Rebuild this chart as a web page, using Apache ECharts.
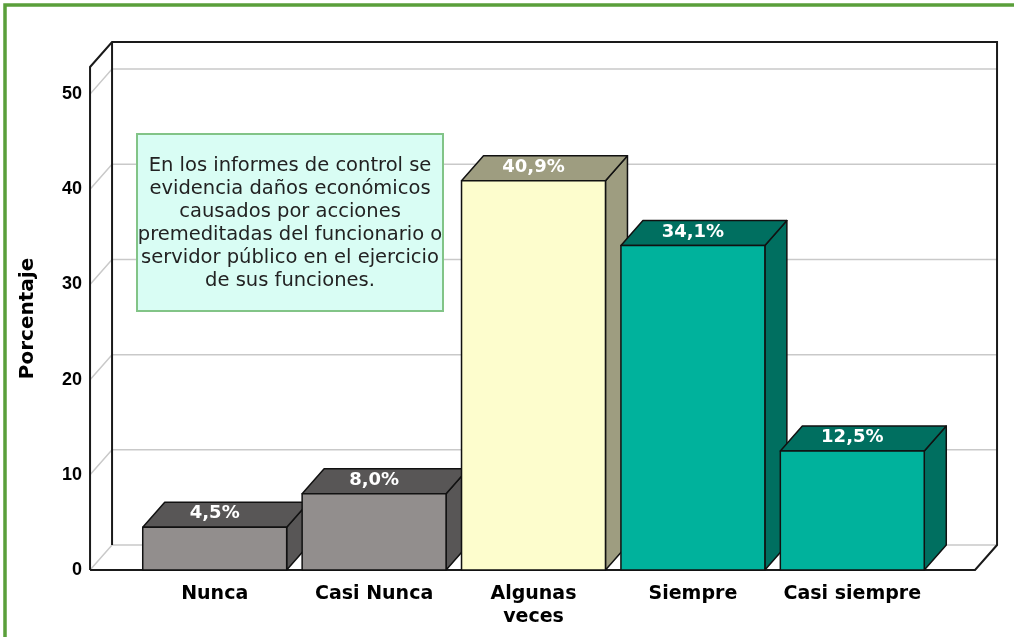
<!DOCTYPE html>
<html>
<head>
<meta charset="utf-8">
<script src="https://cdn.jsdelivr.net/npm/echarts@6/dist/echarts.min.js"></script>
<style>html,body{margin:0;padding:0;background:#fff}#chart{width:1014px;height:637px}</style>
</head>
<body>
<div id="chart"></div>
<script>
// ---- data ----
const categories = ['Nunca', 'Casi Nunca', 'Algunas\nveces', 'Siempre', 'Casi siempre'];
const percentages = [4.5, 8.0, 40.9, 34.1, 12.5];
const yTicks = [0, 10, 20, 30, 40, 50];
const yMax = 52.85;
const yTitle = 'Porcentaje';
const noteText = 'En los informes de control se\nevidencia daños económicos\ncausados por acciones\npremeditadas del funcionario o\nservidor público en el ejercicio\nde sus funciones.';

// ---- styles ----
const frontColors = ['#928e8d', '#928e8d', '#fdfdcd', '#00b29c', '#00b29c'];
const darkColors = ['#585656', '#585656', '#9e9d80', '#006f60', '#006f60'];
const DX = 22, DY = -25;          // 3D depth offset (px)
const EXT_L = 0.782, EXT_R = 0.77; // frame extends beyond the band range (in category units)

const chart = echarts.init(document.getElementById('chart'), null, {renderer: 'canvas'});

function renderFrame(params, api) {
  const a = api.coord([0, 0]), b = api.coord([1, 0]);
  const unit = b[0] - a[0];
  const xL = a[0] - EXT_L * unit;
  const xR = a[0] + (categories.length - 1 + EXT_R) * unit;
  const y0 = a[1];
  const yT = api.coord([0, yMax])[1];
  const children = [];
  const grid = {fill: 'none', stroke: '#c9c9c9', lineWidth: 1.5};
  const edge = {fill: 'none', stroke: '#1a1a1a', lineWidth: 2};
  yTicks.forEach(function (t) {
    const y = api.coord([0, t])[1];
    children.push({type: 'polyline', shape: {points: [[xL, y], [xL + DX, y + DY], [xR + DX, y + DY]]}, style: grid});
  });
  children.push({type: 'polyline', shape: {points: [[xL, y0], [xL, yT], [xL + DX, yT + DY], [xR + DX, yT + DY], [xR + DX, y0 + DY], [xR, y0], [xL, y0]]}, style: edge});
  children.push({type: 'line', shape: {x1: xL + DX, y1: yT + DY, x2: xL + DX, y2: y0 + DY}, style: edge});
  return {type: 'group', children: children};
}

function renderNote(params, api) {
  return {
    type: 'group',
    children: [
      {type: 'rect', shape: {x: 137, y: 134, width: 306, height: 177}, style: {fill: '#d9fdf4', stroke: '#82c487', lineWidth: 2}},
      {type: 'text', x: 290, y: 223, style: {text: noteText, fill: '#222', font: '19.5px "DejaVu Sans"', lineHeight: 23, align: 'center', verticalAlign: 'middle'}}
    ]
  };
}

function renderBar(params, api) {
  const i = api.value(0), v = api.value(1);
  const c0 = api.coord([i, 0]), c1 = api.coord([i, v]);
  const bw = api.size([1, 0])[0] * 0.903;
  const xl = c0[0] - bw / 2, xr = c0[0] + bw / 2, yb = c0[1], yt = c1[1];
  const idx = params.dataIndex;
  const line = {stroke: '#111', lineWidth: 1.5, lineJoin: 'round'};
  return {
    type: 'group',
    children: [
      {type: 'polygon', shape: {points: [[xr, yt], [xr + DX, yt + DY], [xr + DX, yb + DY], [xr, yb]]}, style: Object.assign({fill: darkColors[idx]}, line)},
      {type: 'polygon', shape: {points: [[xl, yt], [xl + DX, yt + DY], [xr + DX, yt + DY], [xr, yt]]}, style: Object.assign({fill: darkColors[idx]}, line)},
      {type: 'rect', shape: {x: xl, y: yt, width: bw, height: yb - yt}, style: Object.assign({fill: frontColors[idx]}, line)},
      {type: 'text', x: c0[0], y: yt + DY / 2 - 1, style: {
        text: v.toFixed(1).replace('.', ',') + '%', fill: '#fff',
        font: 'bold 18px "DejaVu Sans"', align: 'center', verticalAlign: 'middle'}}
    ]
  };
}

const option = {
  animation: false,
  grid: {left: 135, width: 797, top: 67, bottom: 67},
  xAxis: {
    type: 'category', data: categories,
    axisLine: {show: false}, axisTick: {show: false}, splitLine: {show: false},
    axisLabel: {color: '#000', fontFamily: 'DejaVu Sans', fontWeight: 'bold', fontSize: 19, margin: 13, lineHeight: 23, interval: 0}
  },
  yAxis: {
    type: 'value', min: 0, max: yMax, interval: 10,
    name: yTitle, nameLocation: 'middle', nameRotate: 90, nameGap: 97,
    nameTextStyle: {color: '#000', fontFamily: 'DejaVu Sans', fontWeight: 'bold', fontSize: 20},
    axisLine: {show: false}, axisTick: {show: false}, splitLine: {show: false},
    axisLabel: {
      color: '#000', fontFamily: 'Liberation Sans', fontWeight: 'bold', fontSize: 18, margin: 53,
      showMaxLabel: false,
      formatter: function (v) { return yTicks.indexOf(v) >= 0 ? String(v) : ''; }
    }
  },
  graphic: [
    {type: 'rect', z: 100, silent: true, shape: {x: 5, y: 5, width: 1100, height: 800}, style: {fill: null, stroke: '#5a9f3a', lineWidth: 3.5}}
  ],
  series: [
    {type: 'custom', z: 1, clip: false, silent: true, renderItem: renderFrame, data: [[0, 0]]},
    {type: 'custom', z: 5, clip: false, silent: true, renderItem: renderNote, data: [[0, 0]]},
    {type: 'custom', z: 10, clip: false, renderItem: renderBar,
     data: percentages.map(function (v, i) { return [i, v]; })}
  ]
};
chart.setOption(option);
</script>
</body>
</html>
